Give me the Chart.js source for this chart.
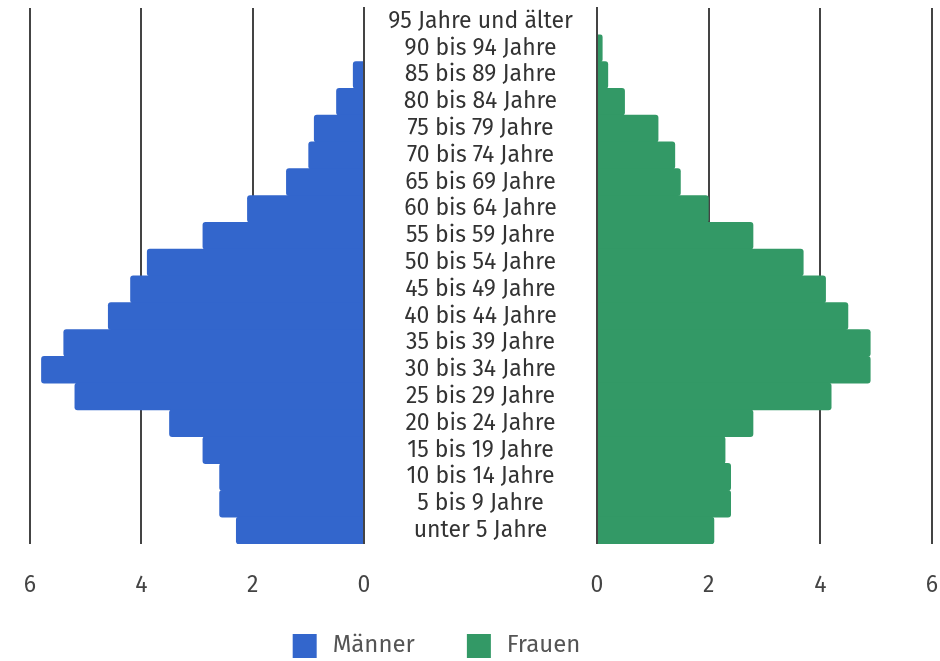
<!DOCTYPE html>
<html>
<head>
<meta charset="utf-8">
<script src="https://cdn.jsdelivr.net/npm/chart.js@4.4.1/dist/chart.umd.min.js"></script>
<style>
  html, body { margin: 0; padding: 0; background: #ffffff; }
  #wrap { position: relative; width: 940px; height: 661px; overflow: hidden; }
  #wrap canvas { position: absolute; left: 0; top: 0; }
</style>
</head>
<body>
<div id="wrap">
  <canvas id="chartM" width="940" height="661"></canvas>
  <canvas id="chartF" width="940" height="661"></canvas>
</div>
<script>
// ---- data ----
const categories = [
  '95 Jahre und älter', '90 bis 94 Jahre', '85 bis 89 Jahre', '80 bis 84 Jahre',
  '75 bis 79 Jahre', '70 bis 74 Jahre', '65 bis 69 Jahre', '60 bis 64 Jahre',
  '55 bis 59 Jahre', '50 bis 54 Jahre', '45 bis 49 Jahre', '40 bis 44 Jahre',
  '35 bis 39 Jahre', '30 bis 34 Jahre', '25 bis 29 Jahre', '20 bis 24 Jahre',
  '15 bis 19 Jahre', '10 bis 14 Jahre', '5 bis 9 Jahre', 'unter 5 Jahre'
];
const maenner = [0, 0, 0.2, 0.5, 0.9, 1.0, 1.4, 2.1, 2.9, 3.9, 4.2, 4.6, 5.4, 5.8, 5.2, 3.5, 2.9, 2.6, 2.6, 2.3];
const frauen  = [0, 0.1, 0.2, 0.5, 1.1, 1.4, 1.5, 2.0, 2.8, 3.7, 4.1, 4.5, 4.9, 4.9, 4.2, 2.8, 2.3, 2.4, 2.4, 2.1];
const seriesNames = ['Männer', 'Frauen'];
const seriesColors = ['#3366cc', '#339966'];
const xTickMin = 0, xTickMax = 6, xTickStep = 2;

// ---- style / layout ----
const FAMILY = "'Fira Sans', 'Open Sans', sans-serif";
const GRID = '#444444';
const GRID_W = 2;
const W = 940;
const M_PAD = { left: 30, right: 115, top: 8, bottom: -6.5 };
const F_PAD = { left: 597, right: 8, top: 8 };
const LABEL_SIZE = 23;
const SW_GAP = 18, SW_SIZE = 24, SW_W = 46;   // legend swatch canvas: gap, square, total width

function swatch(color) {
  const c = document.createElement('canvas');
  c.width = SW_W; c.height = SW_SIZE;
  const g = c.getContext('2d');
  g.fillStyle = color;
  g.fillRect(SW_GAP, 0, SW_SIZE, SW_SIZE);
  return c;
}

function xScale(reverse) {
  return {
    type: 'linear',
    reverse: reverse,
    min: xTickMin,
    max: xTickMax,
    ticks: { stepSize: xTickStep, padding: 0, color: '#444444', font: { family: FAMILY, size: LABEL_SIZE } },
    grid: { color: GRID, lineWidth: GRID_W, drawTicks: true, tickLength: 28, tickColor: 'rgba(0,0,0,0)' },
    border: { display: false }
  };
}

function barDataset(i, values) {
  return {
    label: seriesNames[i], data: values, backgroundColor: seriesColors[i],
    borderRadius: 3, barPercentage: 1.03, categoryPercentage: 1
  };
}

function build() {
  const mctx = document.createElement('canvas').getContext('2d');
  mctx.font = LABEL_SIZE + 'px ' + FAMILY;
  const widest = Math.max.apply(null, categories.map(c => mctx.measureText(c).width));
  const mRight = W - M_PAD.right;          // right edge of the Männer chart box
  const leftZero = 364;                    // where the Männer axis ends / labels begin
  const midLabels = (leftZero + F_PAD.left) / 2;

  const chartM = new Chart(document.getElementById('chartM'), {
    type: 'bar',
    data: { labels: categories, datasets: [barDataset(0, maenner)] },
    options: {
      responsive: false, animation: false, indexAxis: 'y',
      layout: { padding: M_PAD },
      plugins: {
        tooltip: { enabled: false },
        legend: {
          display: true, position: 'bottom', onClick: null,
          labels: {
            usePointStyle: true, pointStyleWidth: SW_W, boxHeight: 24, padding: 34,
            color: '#555555', font: { family: FAMILY, size: 24 },
            generateLabels: () => seriesNames.map((n, i) => ({
              text: n, fillStyle: seriesColors[i], strokeStyle: seriesColors[i], lineWidth: 0,
              pointStyle: swatch(seriesColors[i]), hidden: false, datasetIndex: i, fontColor: '#555555'
            }))
          }
        }
      },
      scales: {
        x: xScale(true),
        y: {
          position: 'right',
          grid: {
            display: true, drawOnChartArea: false, drawTicks: true,
            tickLength: midLabels - leftZero - widest / 2, tickColor: 'rgba(0,0,0,0)'
          },
          border: { display: true, color: GRID, width: GRID_W, z: 1 },
          ticks: {
            autoSkip: false, crossAlign: 'center', padding: 0,
            color: '#333333', font: { family: FAMILY, size: LABEL_SIZE, lineHeight: 0.6 }
          },
          afterFit: (s) => { s.width = mRight - leftZero; }
        }
      }
    }
  });

  const padBottomF = chartM.height - chartM.scales.x.bottom;

  new Chart(document.getElementById('chartF'), {
    type: 'bar',
    data: { labels: categories, datasets: [barDataset(1, frauen)] },
    options: {
      responsive: false, animation: false, indexAxis: 'y',
      layout: { padding: { left: F_PAD.left, right: F_PAD.right, top: F_PAD.top, bottom: padBottomF } },
      plugins: { legend: { display: false }, tooltip: { enabled: false } },
      scales: {
        x: xScale(false),
        y: {
          position: 'left',
          ticks: { display: false },
          grid: { display: false, drawTicks: false },
          border: { display: true, color: GRID, width: GRID_W, z: 1 },
          afterFit: (s) => { s.width = 0; }
        }
      }
    }
  });
}

if (document.fonts && document.fonts.load) {
  Promise.all([
    document.fonts.load(LABEL_SIZE + "px 'Fira Sans'"),
    document.fonts.load("24px 'Fira Sans'")
  ]).then(build, build);
} else {
  build();
}
</script>
</body>
</html>
